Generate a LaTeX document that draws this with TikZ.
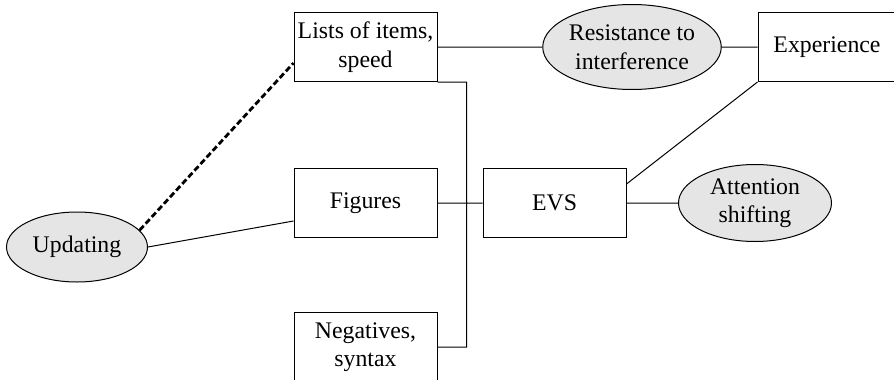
\documentclass[tikz,border=0pt]{standalone}
\usepackage{fontspec}
\setmainfont{Liberation Serif}
\usetikzlibrary{positioning,shapes.geometric}

\begin{document}
\begin{tikzpicture}[x=1pt, y=-1pt, line width=1pt, node distance=156pt and 189pt, on grid,
    font=\fontsize{23.8}{28.5}\selectfont,
    task/.style={draw, rectangle, align=center, inner sep=0pt, minimum width=143pt, minimum height=69pt},
    func/.style={draw, ellipse, align=center, inner sep=0pt, fill=black!10}]
   \useasboundingbox (0,0) rectangle (894,380);
   \node[task]             (lists)  at (365.5,47)          {Lists of items,\\speed};
   \node[task]             (figs)   [below=of lists]       {Figures};
   \node[task]             (neg)    [below=144pt of figs]  {Negatives,\\syntax};
   \node[task]             (evs)    [right=of figs]        {EVS};
   \node[func, minimum width=170pt, minimum height=85pt] (resist) [right=266.5pt of lists] {Resistance to\\interference};
   \node[task, minimum width=138pt] (exper) [right=461.5pt of lists] {Experience};
   \node[func, minimum width=153pt, minimum height=77pt] (shift) [right=200.5pt of evs] {Attention\\shifting};
   \node[func, minimum width=141pt, minimum height=70pt] (upd) [below left=44pt and 288.5pt of figs] {Updating};
   \draw (lists) -- (resist)
         (resist) -- (exper)
         (lists.south east) -- ++(29,0) |- (neg.east)
         (figs) -- (evs)
         (evs) -- (shift)
         (exper.south west) -- ([yshift=19pt]evs.east)
         (upd.east) -- ([yshift=-18pt]figs.west);
   \draw[line width=2.8pt, dash pattern=on 6pt off 3pt] (upd.15) -- ([yshift=-16pt]lists.west);
\end{tikzpicture}
\end{document}
